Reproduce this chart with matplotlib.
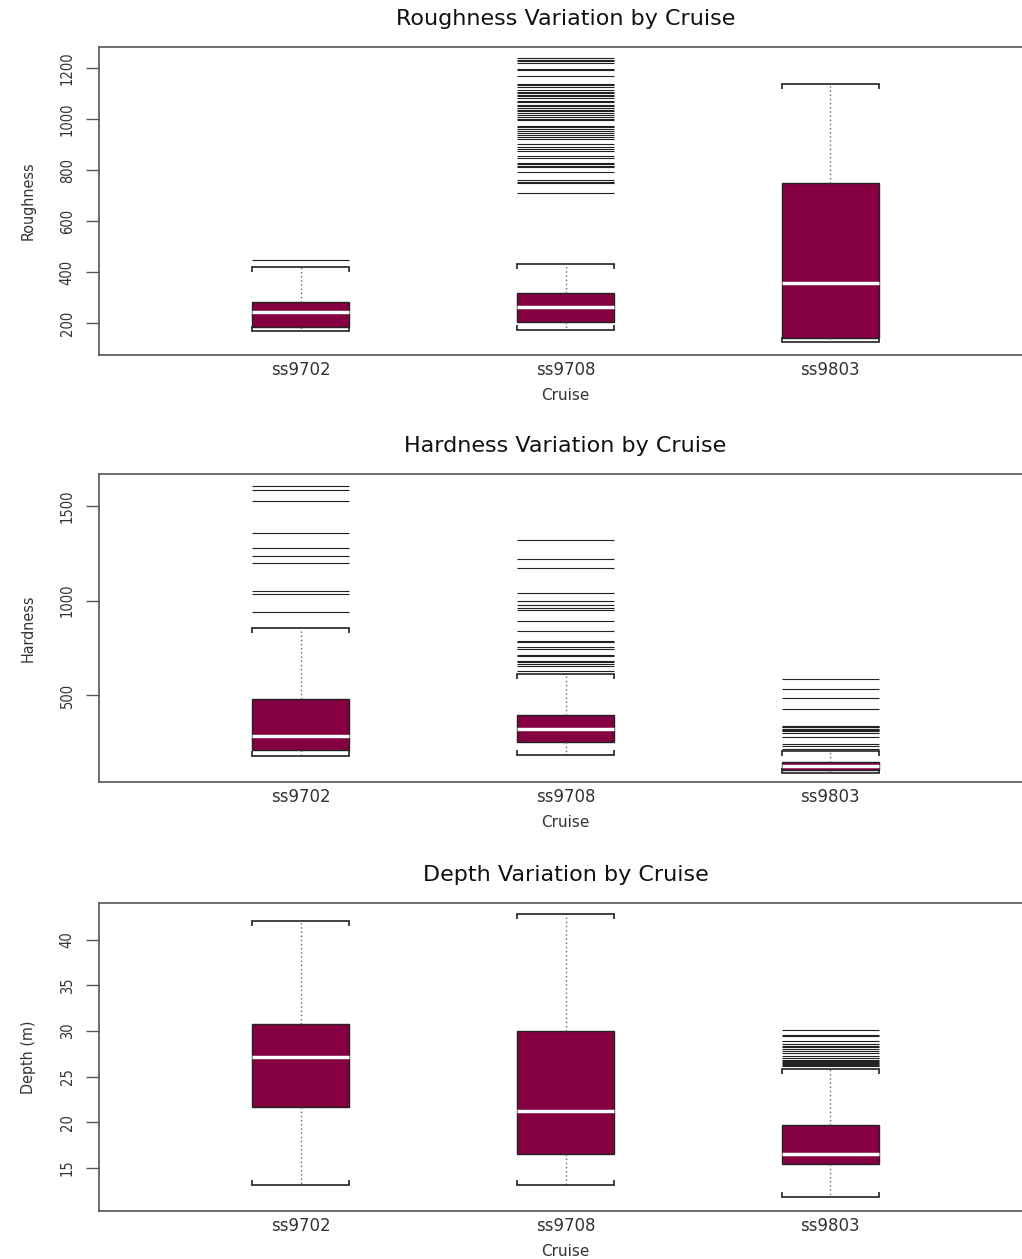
from matplotlib import pyplot as plt
from matplotlib.markers import MarkerStyle
import numpy as np

cruises = ['ss9702', 'ss9708', 'ss9803']

# five-number summaries per cruise: lower whisker, Q1, median, Q3, upper whisker
rough_stats = [[171, 184, 245, 282, 420],
               [176, 206, 263, 318, 433],
               [128, 141, 359, 749, 1138]]
rough_out = [[448],
             [1239, 1233, 1226, 1220, 1196, 1191, 1170, 1138, 1132, 1124, 1115,
              1108, 1102, 1095, 1089, 1082, 1072, 1065, 1056, 1050, 1043, 1037,
              1030, 1023, 1017, 1008, 1001, 997, 974, 969, 961, 953, 945, 936,
              931, 923, 903, 890, 882, 877, 854, 847, 830, 825, 817, 814, 791,
              762, 754, 749, 710],
             []]

hard_stats = [[175, 206, 284, 479, 855],
              [182, 249, 320, 396, 613],
              [88, 100, 125, 145, 201]]
hard_out = [[1609, 1588, 1530, 1356, 1279, 1237, 1200, 1049, 1037, 938],
            [1323, 1222, 1175, 1042, 998, 975, 961, 950, 890, 839, 788, 779,
             754, 744, 714, 705, 682, 673, 662, 652, 628],
            [585, 532, 482, 426, 337, 332, 328, 320, 316, 312, 307, 300, 275,
             242, 228, 214]]

depth_stats = [[13.2, 21.7, 27.2, 30.8, 42.0],
               [13.2, 16.5, 21.2, 30.0, 42.8],
               [11.8, 15.4, 16.5, 19.7, 25.85]]
depth_out = [[], [],
             [30.1, 29.6, 29.4, 28.9, 28.6, 28.4, 28.2, 28.0, 27.8, 27.6, 27.3,
              27.1, 26.8, 26.7, 26.6, 26.5, 26.4, 26.3, 26.2]]

panels = [
    ('Roughness Variation by Cruise', 'Roughness', rough_stats, rough_out,
     (76, 1282), [200, 400, 600, 800, 1000, 1200]),
    ('Hardness Variation by Cruise', 'Hardness', hard_stats, hard_out,
     (39, 1671), [500, 1000, 1500]),
    ('Depth Variation by Cruise', 'Depth (m)', depth_stats, depth_out,
     (10.3, 44.0), [15, 20, 25, 30, 35, 40]),
]

box_col = '#840040'
width = 0.366

# small bracket ends on the whisker caps
tick_down = MarkerStyle([(0, 0), (0, -1)])
tick_up = MarkerStyle([(0, 0), (0, 1)])

fig = plt.figure(figsize=(10.22, 12.59), dpi=100)
bottoms = [0.718, 0.3789, 0.0381]

for (title, ylab, stats, outs, ylim, yticks), b in zip(panels, bottoms):
    ax = fig.add_axes([0.0969, b, 0.913, 0.2446])
    pos = np.arange(1, len(cruises) + 1)
    bstats = [dict(whislo=s[0], q1=s[1], med=s[2], q3=s[3], whishi=s[4],
                   label=c) for s, c in zip(stats, cruises)]
    ax.bxp(bstats, positions=pos, widths=width, capwidths=width,
           showfliers=False, patch_artist=True,
           boxprops=dict(facecolor=box_col, edgecolor='#222222', linewidth=1),
           medianprops=dict(color='white', linewidth=2.5),
           whiskerprops=dict(color='#666666', linewidth=1, linestyle=(0, (1, 2))),
           capprops=dict(color='#222222', linewidth=1.2))

    for p, s, o in zip(pos, stats, outs):
        ends = [p - width / 2, p + width / 2]
        ax.plot(ends, [s[4]] * 2, ls='none', marker=tick_down, ms=7,
                mec='#222222', mew=1.2)
        ax.plot(ends, [s[0]] * 2, ls='none', marker=tick_up, ms=7,
                mec='#222222', mew=1.2)
        if o:
            ax.hlines(o, p - width / 2, p + width / 2, color='#222222',
                      linewidth=0.8)

    ax.set_xlim(0.238, 3.762)
    ax.set_ylim(*ylim)
    ax.set_yticks(yticks)
    ax.set_yticklabels([str(t) for t in yticks], rotation=90, va='center',
                       fontstretch='condensed', fontsize=10.5, color='#333333')
    ax.set_xticks(pos)
    ax.set_xticklabels(cruises, fontsize=12, color='#333333')
    ax.tick_params(axis='y', length=9.5, width=1, color='#555555', pad=8)
    ax.tick_params(axis='x', length=0, pad=4)
    for sp in ax.spines.values():
        sp.set_color('#555555')
        sp.set_linewidth(1.2)

    ax.set_title(title, fontsize=16, pad=16, color='#111111')
    ax.set_xlabel('Cruise', fontsize=11, labelpad=7, color='#333333')
    ax.set_ylabel(ylab, fontstretch='condensed', fontsize=11.5, labelpad=17,
                  color='#333333')

plt.savefig('out.png', dpi=100)
